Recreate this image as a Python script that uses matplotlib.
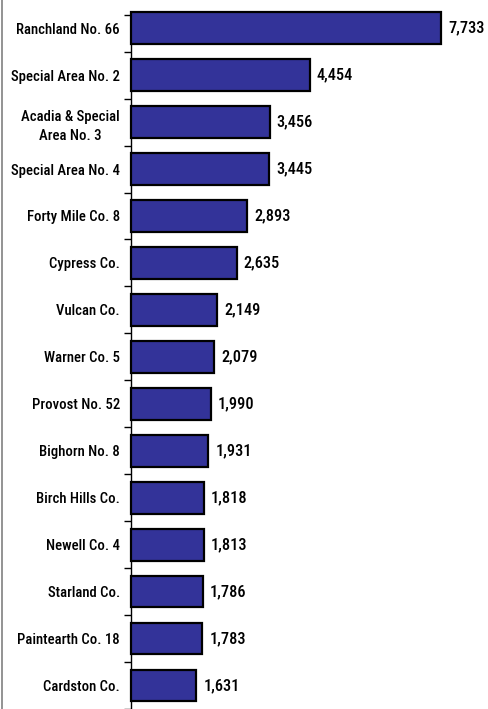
import matplotlib
matplotlib.use("Agg")
import matplotlib.pyplot as plt
from matplotlib import font_manager
from matplotlib.font_manager import FontProperties
from matplotlib.lines import Line2D
import os

categories = ["Ranchland No. 66", "Special Area No. 2", "Acadia & Special\nArea No. 3",
              "Special Area No. 4", "Forty Mile Co. 8", "Cypress Co.", "Vulcan Co.",
              "Warner Co. 5", "Provost No. 52", "Bighorn No. 8", "Birch Hills Co.",
              "Newell Co. 4", "Starland Co.", "Paintearth Co. 18", "Cardston Co."]
values = [7733, 4454, 3456, 3445, 2893, 2635, 2149, 2079, 1990, 1931, 1818, 1813, 1786, 1783, 1631]


def find_condensed(weight_word):
    found = []
    for f in font_manager.fontManager.ttflist:
        base = os.path.basename(f.fname).lower()
        if ("narrow" in base or "condensed" in base) and weight_word in base \
                and "italic" not in base and "oblique" not in base:
            if weight_word == "bold" and ("semi" in base or "extra" in base):
                continue
            if weight_word == "medium" and "semi" in base:
                continue
            found.append(f.fname)
    pref = ["liberationsansnarrow", "arialnarrow", "robotocondensed", "dejavusanscondensed", "notosans", "opensans"]
    for p in pref:
        for c in found:
            if p in os.path.basename(c).lower().replace("-", "").replace("_", ""):
                return c
    return found[0] if found else None


med = find_condensed("medium") or find_condensed("semibold") or find_condensed("bold")

if med:
    lab_fp = FontProperties(fname=med, size=10.6)
    val_fp = FontProperties(fname=med, size=11.8)
else:
    lab_fp = FontProperties(family="Liberation Sans", weight="bold", size=8.3)
    val_fp = FontProperties(family="Liberation Sans", weight="bold", size=9.5)

W, H = 488, 709
fig = plt.figure(figsize=(W / 100, H / 100), dpi=100)
ax_left, ax_right = 131, 488
ax_top, ax_bottom = 15, 709
ax = fig.add_axes([ax_left / W, 1 - ax_bottom / H, (ax_right - ax_left) / W, (ax_bottom - ax_top) / H])

pos = list(range(len(categories)))
bars = ax.barh(pos, values, height=0.675, color="#333399", edgecolor="black", linewidth=1.6, zorder=3)
for b in bars:
    b.set_clip_on(False)

px_per_unit = 310 / 7733
ax.set_xlim(0, (ax_right - ax_left) / px_per_unit)
band = 47.4
b0 = 4.6
y_top = -0.5 + (ax_top - b0) / band
y_bot = -0.5 + (ax_bottom - b0) / band
ax.set_ylim(y_bot, y_top)

for p, v in zip(pos, values):
    ax.annotate(f"{v:,}", (v, p), xytext=(5, 0), textcoords="offset points",
                va="center", ha="left", fontproperties=val_fp, color="black", annotation_clip=False)

ax.set_yticks(pos)
ax.set_yticklabels(categories, ha="right", multialignment="center")
for t in ax.get_yticklabels():
    t.set_fontproperties(lab_fp)
    t.set_linespacing(1.45)
ax.tick_params(axis="y", which="major", length=0, pad=8)
ax.set_yticks([y_top] + [p + 0.5 for p in pos], minor=True)
ax.tick_params(axis="y", which="minor", length=5, width=1, color="black", direction="out")
ax.set_xticks([])
for s in ["top", "right", "bottom"]:
    ax.spines[s].set_visible(False)
ax.spines["left"].set_linewidth(1.0)
ax.spines["left"].set_color("black")

fig.add_artist(Line2D([1.5 / W, 1.5 / W], [0, 1], color="#808080", linewidth=1.2, transform=fig.transFigure))

fig.savefig("out.png", dpi=100)
